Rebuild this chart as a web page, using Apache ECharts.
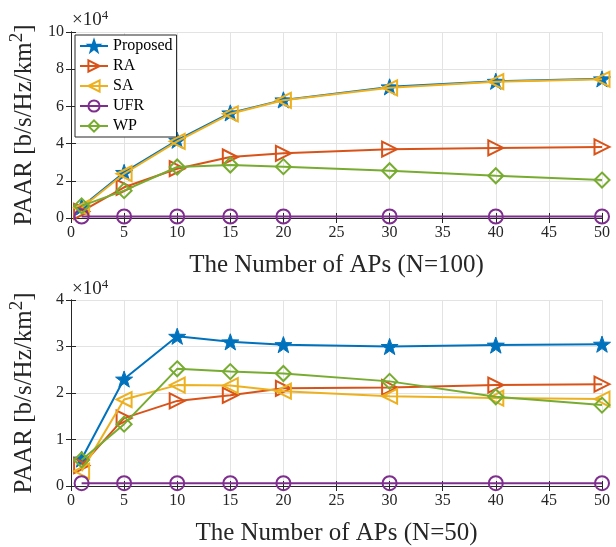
<!DOCTYPE html>
<html><head><meta charset="utf-8">
<script src="https://cdn.jsdelivr.net/npm/echarts@6/dist/echarts.min.js"></script>
<style>html,body{margin:0;padding:0;background:#fff}#c{width:616px;height:547px}</style>
</head><body><div id="c"></div>
<script>
const xValues = [1, 5, 10, 15, 20, 30, 40, 50];
const seriesNames = ['Proposed', 'RA', 'SA', 'UFR', 'WP'];
// N=100 (units of 1e4)
const top_Proposed = [0.6, 2.45, 4.18, 5.65, 6.35, 7.05, 7.35, 7.48];
const top_RA       = [0.35, 1.65, 2.65, 3.28, 3.48, 3.7, 3.77, 3.82];
const top_SA       = [0.55, 2.38, 4.12, 5.6, 6.33, 7.0, 7.33, 7.46];
const top_UFR      = [0.08, 0.08, 0.08, 0.08, 0.08, 0.08, 0.08, 0.08];
const top_WP       = [0.65, 1.47, 2.74, 2.85, 2.76, 2.54, 2.27, 2.04];
// N=50 (units of 1e4)
const bot_Proposed = [0.58, 2.3, 3.22, 3.1, 3.04, 3.0, 3.03, 3.05];
const bot_RA       = [0.44, 1.46, 1.83, 1.95, 2.1, 2.12, 2.17, 2.19];
const bot_SA       = [0.32, 1.86, 2.17, 2.16, 2.04, 1.93, 1.89, 1.87];
const bot_UFR      = [0.06, 0.06, 0.06, 0.06, 0.06, 0.06, 0.06, 0.06];
const bot_WP       = [0.56, 1.33, 2.52, 2.46, 2.42, 2.25, 1.92, 1.74];
const xTicks = [0, 5, 10, 15, 20, 25, 30, 35, 40, 45, 50];
const yTicksTop = [0, 2, 4, 6, 8, 10];
const yTicksBot = [0, 1, 2, 3, 4];

const colors = ['#0072BD', '#D95319', '#EDB120', '#7E2F8E', '#77AC30'];
const star = 'path://M0,-10 L2.35,-3.24 L9.51,-3.09 L3.8,1.24 L5.88,8.09 L0,4 L-5.88,8.09 L-3.8,1.24 L-9.51,-3.09 L-2.35,-3.24 Z';
const symbols = [star, 'triangle', 'triangle', 'circle', 'diamond'];
const rotates = [0, -90, 90, 0, 0];
const sizes = [17, 15, 15, 14, 15];
const FONT = 'Liberation Serif';
const dark = '#262626';

const topData = [top_Proposed, top_RA, top_SA, top_UFR, top_WP];
const botData = [bot_Proposed, bot_RA, bot_SA, bot_UFR, bot_WP];

function mkSeries(dataArr, xi, yi) {
  return dataArr.map((d, i) => ({
    name: seriesNames[i], type: 'line', xAxisIndex: xi, yAxisIndex: yi,
    data: d.map((v, k) => [xValues[k], v]),
    symbol: symbols[i], symbolSize: sizes[i], symbolRotate: rotates[i], symbolKeepAspect: true,
    lineStyle: { color: colors[i], width: 2 },
    itemStyle: i === 0 ? { color: colors[i], borderColor: colors[i], borderWidth: 1 }
                       : { color: 'rgba(255,255,255,0)', borderColor: colors[i], borderWidth: 2 },
    z: 2 + i, animation: false
  }));
}

const grids = [
  { left: 70, right: 14, top: 32, height: 186 },
  { left: 70, right: 14, top: 300, height: 189 }
];

function xAxes(gi, name) {
  return [
    { type: 'value', gridIndex: gi, min: 0, max: 50, interval: 5, position: 'bottom',
      name: name, nameLocation: 'middle', nameGap: 35,
      nameTextStyle: { fontFamily: FONT, fontSize: 25, color: dark },
      axisLine: { show: true, lineStyle: { color: dark, width: 1 } },
      axisTick: { inside: true, length: 5, lineStyle: { color: dark } },
      axisLabel: { fontFamily: FONT, fontSize: 16, color: dark, margin: 7 },
      splitLine: { show: true, lineStyle: { color: '#e3e3e3', width: 1 } } },
    { type: 'value', gridIndex: gi, min: 0, max: 50, interval: 5, position: 'top',
      axisLine: { show: true, lineStyle: { color: dark, width: 1 } },
      axisTick: { inside: true, length: 5, lineStyle: { color: dark } },
      axisLabel: { show: false }, splitLine: { show: false } }
  ];
}
function yAxes(gi, max, interval) {
  return [
    { type: 'value', gridIndex: gi, min: 0, max: max, interval: interval, position: 'left',
      name: '{n|PAAR [b/s/Hz/km}{s|2}{n|]}', nameLocation: 'middle', nameGap: 30, nameRotate: 90,
      nameTextStyle: { rich: { n: { fontFamily: FONT, fontSize: 25, color: dark },
                               s: { fontFamily: FONT, fontSize: 19, color: dark, verticalAlign: 'top', padding: [0,0,14,0] } } },
      axisLine: { show: true, lineStyle: { color: dark, width: 1 } },
      axisTick: { inside: true, length: 5, lineStyle: { color: dark } },
      axisLabel: { fontFamily: FONT, fontSize: 16, color: dark, margin: 7 },
      splitLine: { show: true, lineStyle: { color: '#e3e3e3', width: 1 } } },
    { type: 'value', gridIndex: gi, min: 0, max: max, interval: interval, position: 'right',
      axisLine: { show: true, lineStyle: { color: dark, width: 1 } },
      axisTick: { inside: true, length: 5, lineStyle: { color: dark } },
      axisLabel: { show: false }, splitLine: { show: false } }
  ];
}

const expStyle = { fontFamily: FONT, fontSize: 19, fontWeight: 'normal', color: dark,
  rich: { s: { fontFamily: FONT, fontSize: 13, color: dark, verticalAlign: 'top', padding: [0,0,9,0] } } };

const chart = echarts.init(document.getElementById('c'), null, { renderer: 'canvas' });
chart.setOption({
  backgroundColor: '#fff',
  animation: false,
  title: [
    { text: '×10{s|4}', left: 72, top: 9, padding: 0, textStyle: expStyle },
    { text: '×10{s|4}', left: 72, top: 278, padding: 0, textStyle: expStyle }
  ],
  legend: {
    data: seriesNames, orient: 'vertical', left: 75, top: 35,
    backgroundColor: '#fff', borderColor: dark, borderWidth: 1,
    padding: [3, 4, 3, 4], itemWidth: 28, itemHeight: 14, itemGap: 4,
    textStyle: { fontFamily: FONT, fontSize: 16, color: '#000', lineHeight: 14 }
  },
  grid: grids,
  xAxis: [...xAxes(0, 'The Number of APs (N=100)'), ...xAxes(1, 'The Number of APs (N=50)')],
  yAxis: [...yAxes(0, 10, 2), ...yAxes(1, 4, 1)],
  series: [...mkSeries(topData, 0, 0), ...mkSeries(botData, 2, 2)]
});
</script></body></html>
